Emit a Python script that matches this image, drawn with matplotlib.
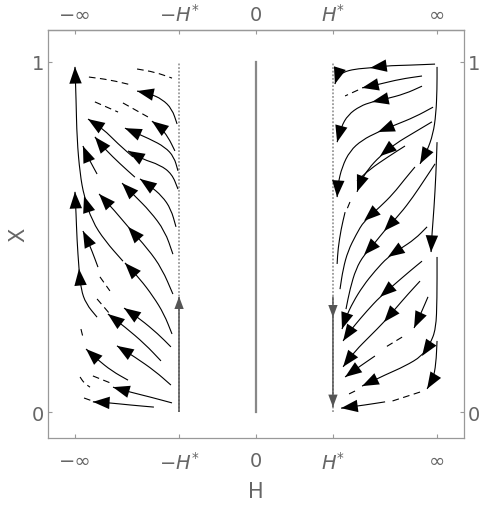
import matplotlib
matplotlib.use("Agg")
import matplotlib.pyplot as plt
from matplotlib.path import Path
from matplotlib.patches import PathPatch

# H axis positions of the special values (-inf .. inf mapped to -1 .. 1)
h_star = 0.425
tick_pos = [-1.0, -h_star, 0.0, h_star, 1.0]
tick_labels = ["\u2212\u221e", r"$-H^{*}$", "0", r"$H^{*}$", "\u221e"]
x_ticks = [0, 1]

# streamlines: (points (H, X) from tail to head, indices of points carrying an arrow tip)
left_streams = [
    ([(-0.735, 0.431), (-0.834, 0.489), (-0.906, 0.546), (-0.950, 0.617), (-0.972, 0.680),
      (-0.989, 0.780), (-0.994, 0.894), (-1.000, 0.986)], [3, 7]),
    ([(-0.878, 0.271), (-0.939, 0.309), (-0.967, 0.351), (-0.978, 0.409), (-0.989, 0.494),
      (-0.994, 0.566), (-1.000, 0.629)], [3, 6]),
    ([(-0.436, 0.823), (-0.464, 0.866), (-0.519, 0.894), (-0.586, 0.909), (-0.657, 0.917)], [4]),
    ([(-0.448, 0.746), (-0.486, 0.786), (-0.530, 0.814), (-0.575, 0.831)], [3]),
    ([(-0.680, 0.729), (-0.762, 0.766), (-0.845, 0.809), (-0.928, 0.837)], [3]),
    ([(-0.431, 0.689), (-0.453, 0.729), (-0.503, 0.757), (-0.586, 0.780), (-0.724, 0.811)], [4]),
    ([(-0.669, 0.671), (-0.751, 0.709), (-0.834, 0.751), (-0.890, 0.786)], [3]),
    ([(-0.431, 0.637), (-0.464, 0.680), (-0.530, 0.706), (-0.630, 0.723), (-0.707, 0.746)], [4]),
    ([(-0.878, 0.680), (-0.917, 0.717), (-0.945, 0.746), (-0.956, 0.760)], [3]),
    ([(-0.459, 0.451), (-0.503, 0.517), (-0.586, 0.574), (-0.669, 0.617), (-0.740, 0.654)], [4]),
    ([(-0.442, 0.529), (-0.470, 0.580), (-0.519, 0.617), (-0.586, 0.646), (-0.641, 0.666)], [4]),
    ([(-0.459, 0.337), (-0.519, 0.409), (-0.597, 0.466), (-0.707, 0.529), (-0.779, 0.574),
      (-0.867, 0.623)], [3, 5]),
    ([(-0.873, 0.414), (-0.906, 0.460), (-0.934, 0.494), (-0.956, 0.517)], [3]),
    ([(-0.464, 0.223), (-0.508, 0.280), (-0.569, 0.331), (-0.641, 0.380), (-0.724, 0.426)], [4]),
    ([(-0.470, 0.186), (-0.541, 0.223), (-0.641, 0.266), (-0.729, 0.297)], [3]),
    ([(-0.525, 0.146), (-0.613, 0.194), (-0.724, 0.243), (-0.818, 0.280)], [3]),
    ([(-0.470, 0.077), (-0.558, 0.117), (-0.669, 0.157), (-0.768, 0.189)], [3]),
    ([(-0.707, 0.091), (-0.796, 0.117), (-0.878, 0.151), (-0.939, 0.180)], [3]),
    ([(-0.464, 0.026), (-0.586, 0.043), (-0.696, 0.057), (-0.790, 0.071)], [3]),
    ([(-0.564, 0.014), (-0.696, 0.020), (-0.807, 0.026), (-0.901, 0.029)], [3]),
]

left_dashes = [
    [(-0.923, 0.957), (-0.807, 0.949), (-0.685, 0.934)],
    [(-0.657, 0.980), (-0.558, 0.971), (-0.464, 0.954)],
    [(-0.890, 0.886), (-0.762, 0.857)],
    [(-0.735, 0.883), (-0.597, 0.843)],
    [(-0.967, 0.237), (-0.956, 0.214)],
    [(-0.972, 0.100), (-0.950, 0.083), (-0.917, 0.071)],
    [(-0.901, 0.103), (-0.790, 0.080)],
    [(-0.950, 0.040), (-0.901, 0.031)],
    [(-0.862, 0.386), (-0.807, 0.346)],
    [(-0.878, 0.323), (-0.807, 0.280)],
]

right_streams = [
    ([(0.989, 0.994), (0.851, 0.991), (0.713, 0.989), (0.630, 0.983), (0.547, 0.980),
      (0.481, 0.971), (0.448, 0.957), (0.436, 0.937)], [3, 7]),
    ([(0.917, 0.960), (0.796, 0.951), (0.685, 0.937), (0.586, 0.926)], [3]),
    ([(0.917, 0.931), (0.823, 0.909), (0.713, 0.894), (0.641, 0.886), (0.575, 0.874),
      (0.508, 0.849), (0.470, 0.814), (0.448, 0.771)], [3, 7]),
    ([(0.978, 0.871), (0.878, 0.843), (0.768, 0.820), (0.674, 0.800), (0.586, 0.777),
      (0.519, 0.746), (0.475, 0.700), (0.453, 0.651), (0.448, 0.614)], [3, 8]),
    ([(0.972, 0.829), (0.878, 0.800), (0.768, 0.766), (0.685, 0.731), (0.619, 0.694),
      (0.580, 0.660), (0.558, 0.629)], [3, 6]),
    ([(1.000, 0.986), (1.000, 0.923), (0.994, 0.851), (0.978, 0.794), (0.945, 0.746),
      (0.906, 0.709)], [5]),
    ([(1.000, 0.771), (0.994, 0.680), (0.983, 0.580), (0.972, 0.509), (0.967, 0.457)], [4]),
    ([(0.823, 0.760), (0.729, 0.729), (0.630, 0.694), (0.558, 0.660)], []),
    ([(0.492, 0.571), (0.470, 0.523), (0.453, 0.466), (0.448, 0.423)], []),
    ([(0.878, 0.700), (0.823, 0.666), (0.757, 0.623), (0.685, 0.586), (0.597, 0.546),
      (0.552, 0.506), (0.508, 0.460), (0.481, 0.409), (0.464, 0.351)], [4]),
    ([(0.989, 0.709), (0.934, 0.666), (0.867, 0.614), (0.796, 0.566), (0.707, 0.517),
      (0.652, 0.480), (0.597, 0.449), (0.552, 0.409), (0.519, 0.351), (0.497, 0.294)], [4, 6]),
    ([(0.945, 0.529), (0.878, 0.494), (0.796, 0.466), (0.729, 0.443), (0.657, 0.403),
      (0.591, 0.360), (0.536, 0.314), (0.497, 0.271), (0.475, 0.237)], [3, 8]),
    ([(0.917, 0.431), (0.851, 0.403), (0.768, 0.366), (0.685, 0.329), (0.613, 0.289),
      (0.547, 0.249), (0.503, 0.220), (0.481, 0.203)], [3, 7]),
    ([(0.906, 0.374), (0.840, 0.337), (0.768, 0.294), (0.707, 0.257), (0.630, 0.217),
      (0.547, 0.174), (0.481, 0.129)], [3, 6]),
    ([(0.950, 0.329), (0.917, 0.289), (0.873, 0.240)], [2]),
    ([(0.657, 0.160), (0.575, 0.131), (0.492, 0.100)], [2]),
    ([(1.000, 0.443), (1.000, 0.323), (0.994, 0.237), (0.961, 0.194), (0.917, 0.160),
      (0.823, 0.131), (0.713, 0.106), (0.586, 0.074)], [4, 7]),
    ([(1.000, 0.203), (0.994, 0.137), (0.978, 0.094), (0.945, 0.066)], [3]),
    ([(0.713, 0.029), (0.602, 0.020), (0.470, 0.011)], [2]),
]

right_dashes = [
    [(0.564, 0.920), (0.492, 0.903)],
    [(0.519, 0.600), (0.503, 0.580)],
    [(0.807, 0.214), (0.718, 0.186)],
    [(0.547, 0.060), (0.492, 0.046)],
    [(0.906, 0.057), (0.751, 0.031)],
]

# streamlines lying on the lines H = -H* (upward) and H = H* (downward)
left_axis_stream = ([(-h_star, 0.0), (-h_star, 0.33)], [1])
right_axis_stream = ([(h_star, 0.33), (h_star, 0.27), (h_star, 0.014)], [1, 2])

text_color = "#666666"
frame_color = "#999999"

fig = plt.figure(figsize=(4.8, 5.1), dpi=100)
ax = fig.add_axes([0.1, 0.1392, 0.8667, 0.8])
ax.set_xlim(-1.149, 1.149)
ax.set_ylim(-0.0743, 1.0914)


def smooth_path(points):
    # quadratic pieces through the midpoints, so the traced polyline reads as a curve
    if len(points) < 3:
        return Path(points, [Path.MOVETO] + [Path.LINETO] * (len(points) - 1))
    verts = [points[0]]
    codes = [Path.MOVETO]
    mids = [((a[0] + b[0]) / 2, (a[1] + b[1]) / 2) for a, b in zip(points[:-1], points[1:])]
    verts.append(mids[0])
    codes.append(Path.LINETO)
    for i in range(1, len(points) - 1):
        verts += [points[i], mids[i]]
        codes += [Path.CURVE3, Path.CURVE3]
    verts.append(points[-1])
    codes.append(Path.LINETO)
    return Path(verts, codes)


def draw_stream(points, arrows, color="black", lw=0.8, ls="-", head=16):
    ax.add_patch(PathPatch(smooth_path(points), fill=False, edgecolor=color, lw=lw,
                           ls=ls, capstyle="butt", zorder=3))
    for i in arrows:
        ax.annotate("", xy=points[i], xytext=points[i - 1],
                    arrowprops=dict(arrowstyle="-|>,head_length=0.75,head_width=0.28",
                                    color=color, lw=0.0, shrinkA=0, shrinkB=0,
                                    mutation_scale=head), zorder=4)


# reference lines
ax.plot([0, 0], [0, 1], color="#888888", lw=1.6, zorder=2)
for hx in (-h_star, h_star):
    ax.plot([hx, hx], [0, 1], color="#999999", lw=1.3, ls=(0, (1, 1)), zorder=2)

for pts, arr in left_streams + right_streams:
    draw_stream(pts, arr)
for pts in left_dashes + right_dashes:
    draw_stream(pts, [], ls=(0, (6, 4)))

draw_stream(*left_axis_stream, color="#555555", lw=1.1, head=12)
draw_stream(*right_axis_stream, color="#555555", lw=1.1, head=12)

# frame and ticks
for side in ax.spines.values():
    side.set_color(frame_color)
    side.set_linewidth(0.9)

ax.set_xticks(tick_pos)
ax.set_xticklabels(tick_labels)
ax.set_yticks(x_ticks)
ax.set_yticklabels([str(v) for v in x_ticks])
ax.tick_params(axis="both", direction="in", length=3, width=0.8, color=frame_color,
               labelcolor=text_color, labelsize=14)
ax.tick_params(axis="x", pad=9)
ax.tick_params(axis="y", right=True, labelright=True, pad=3)

top = ax.secondary_xaxis("top")
top.set_xticks(tick_pos)
top.set_xticklabels(tick_labels)
top.tick_params(direction="in", length=3, width=0.8, color=frame_color,
                labelcolor=text_color, labelsize=14, pad=4)
top.spines["top"].set_color(frame_color)
top.spines["top"].set_linewidth(0.9)

ax.set_xlabel("H", color=text_color, fontsize=15, labelpad=6)
ax.set_ylabel("X", color=text_color, fontsize=15, labelpad=2)

fig.savefig("out.png", dpi=100)
